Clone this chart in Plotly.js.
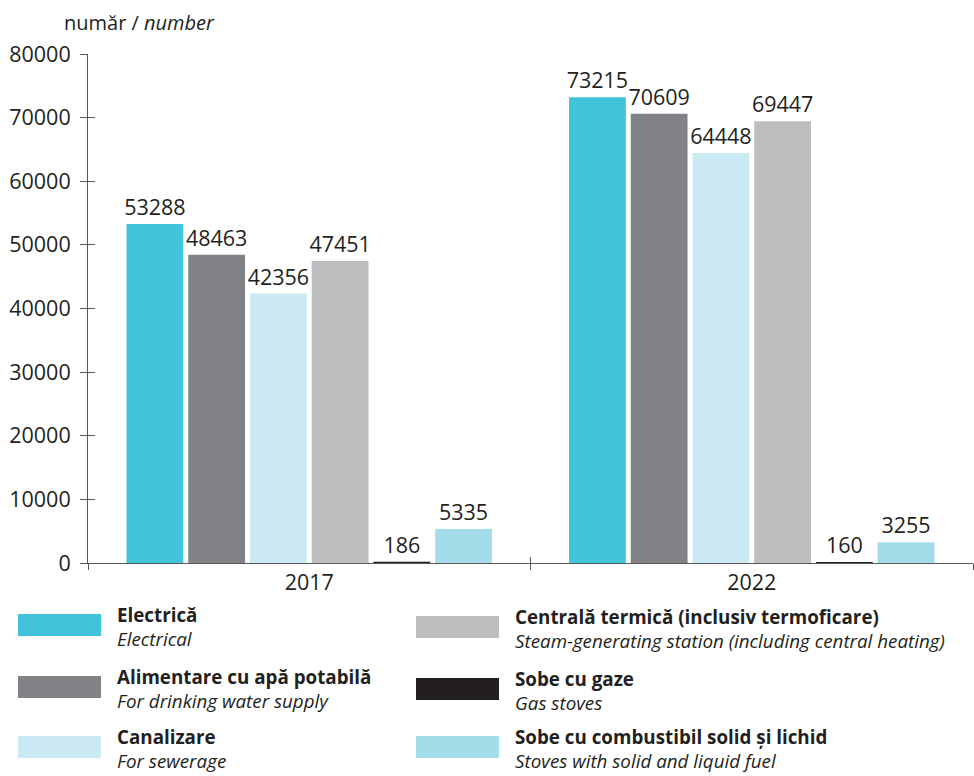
<!DOCTYPE html>
<html>
<head>
<meta charset="utf-8">
<script src="https://cdn.plot.ly/plotly-3.0.1.min.js"></script>
<style>html,body{margin:0;padding:0;background:#fff;}#chart{width:974px;height:776px;}</style>
</head>
<body>
<div id="chart"></div>
<script>
// ---- data ----
const years = ['2017', '2022'];
const namesRo = ['Electrică', 'Alimentare cu apă potabilă', 'Canalizare', 'Centrală termică (inclusiv termoficare)', 'Sobe cu gaze', 'Sobe cu combustibil solid și lichid'];
const namesEn = ['Electrical', 'For drinking water supply', 'For sewerage', 'Steam-generating station (including central heating)', 'Gas stoves', 'Stoves with solid and liquid fuel'];
const electrica = [53288, 73215];
const alimentare = [48463, 70609];
const canalizare = [42356, 64448];
const centrala = [47451, 69447];
const sobeGaze = [186, 160];
const sobeSolid = [5335, 3255];
const seriesValues = [electrica, alimentare, canalizare, centrala, sobeGaze, sobeSolid];
const colors = ['#41c3da', '#808285', '#cbe9f3', '#bcbec0', '#231f20', '#a5dcea'];
const yTickVals = [0, 10000, 20000, 30000, 40000, 50000, 60000, 70000, 80000];
const yTitle = 'număr / <i>number</i>';

// ---- layout geometry ----
const W = 974, H = 776;
const M = {l: 88, r: 1, t: 54, b: 213};
const PW = W - M.l - M.r, PH = H - M.t - M.b;
const px = x => (x - M.l) / PW;
const py = y => (H - M.b - y) / PH;

const FONT = '"Open Sans", "Noto Sans", sans-serif';
const TXT = '#231f20';
const AX = '#58595b';

const traces = seriesValues.map((vals, i) => ({
  type: 'bar',
  name: namesRo[i],
  x: years,
  y: vals,
  marker: {color: colors[i], line: {width: 0}},
  text: vals.map(v => String(v)),
  textposition: 'outside',
  constraintext: 'none',
  cliponaxis: false,
  textfont: {family: FONT, size: 21.5, color: TXT},
  hoverinfo: 'x+y+name'
}));
// helper trace for inner tick marks
traces.push({type: 'scatter', x: years, y: [0, 0], xaxis: 'x2', yaxis: 'y2', mode: 'none', showlegend: false, hoverinfo: 'skip'});

const shapes = [];
const annotations = [];
const colX = [18, 416], txtX = [116, 514], rowY = [625, 687, 747];
namesRo.forEach((n, i) => {
  const c = Math.floor(i / 3), r = i % 3;
  const cy = rowY[r] + (r < 2 ? c * 2 : 0);
  shapes.push({type: 'rect', xref: 'paper', yref: 'paper', x0: px(colX[c]), x1: px(colX[c] + 83),
    y0: py(cy - 11), y1: py(cy + 11), fillcolor: colors[i], line: {width: 0}, layer: 'above'});
  annotations.push({xref: 'paper', yref: 'paper', x: px(txtX[c]), y: py(cy + 2), xanchor: 'left', yanchor: 'middle',
    align: 'left', showarrow: false, borderpad: 0, text: '<b>' + n + '</b><br><i>' + namesEn[i] + '</i>',
    font: {family: FONT, size: 18.8, color: TXT}});
});
annotations.push({xref: 'paper', yref: 'paper', x: px(62), y: py(22), xanchor: 'left', yanchor: 'middle',
  showarrow: false, text: yTitle, font: {family: FONT, size: 20, color: TXT}});

const layout = {
  width: W, height: H,
  margin: M,
  paper_bgcolor: '#fff', plot_bgcolor: '#fff',
  showlegend: false,
  barmode: 'group',
  bargap: 0.163,
  bargroupgap: 0.08,
  font: {family: FONT, color: TXT},
  xaxis: {type: 'category', categoryarray: years, range: [-0.5, 1.5], tickson: 'boundaries', ticks: 'outside', ticklen: 6,
    tickcolor: AX, showline: true, linecolor: AX, linewidth: 1, showgrid: false, zeroline: false,
    tickfont: {family: FONT, size: 21.5, color: TXT}},
  yaxis: {range: [0, 80000], tickvals: yTickVals, ticktext: yTickVals.map(String), ticks: 'outside', ticklen: 7,
    tickcolor: AX, showline: true, linecolor: AX, linewidth: 1, showgrid: false, zeroline: false,
    ticklabelstandoff: 5, tickfont: {family: FONT, size: 21.5, color: TXT}},
  xaxis2: {type: 'category', categoryarray: years, range: [-0.5, 1.5], overlaying: 'x', tickson: 'boundaries', ticks: 'inside', ticklen: 6,
    tickcolor: AX, showline: false, showgrid: false, zeroline: false, showticklabels: false},
  yaxis2: {range: [0, 80000], tickvals: yTickVals, overlaying: 'y', ticks: 'inside', ticklen: 7, tickcolor: AX,
    showline: false, showgrid: false, zeroline: false, showticklabels: false},
  shapes: shapes,
  annotations: annotations
};

Plotly.newPlot('chart', traces, layout, {displayModeBar: false, staticPlot: true});
</script>
</body>
</html>
